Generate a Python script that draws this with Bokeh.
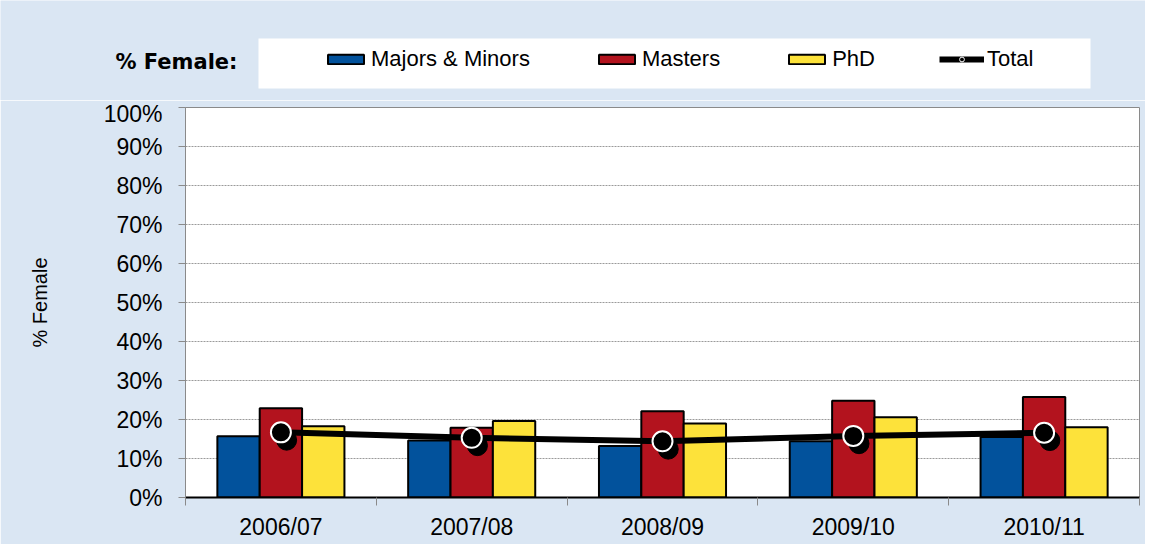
from bokeh.plotting import figure
from bokeh.layouts import column
from bokeh.models import (ColumnDataSource, Legend, LegendItem, FixedTicker,
                          NumeralTickFormatter, Label, Range1d, BoxAnnotation)
from bokeh.transform import dodge
from bokeh.embed import file_html
from bokeh.resources import INLINE

# ---- data ----
years = ["2006/07", "2007/08", "2008/09", "2009/10", "2010/11"]
majors_minors = [0.157, 0.146, 0.132, 0.144, 0.155]
masters = [0.229, 0.179, 0.221, 0.248, 0.258]
phd = [0.183, 0.196, 0.190, 0.206, 0.180]
total = [0.167, 0.153, 0.144, 0.158, 0.166]
y_ticks = [0, 0.1, 0.2, 0.3, 0.4, 0.5, 0.6, 0.7, 0.8, 0.9, 1.0]
series_names = ["Majors & Minors", "Masters", "PhD", "Total"]

xc = [i + 0.5 for i in range(len(years))]
src = ColumnDataSource(dict(x=xc, mm=majors_minors, ma=masters, phd=phd, tot=total))

BLUE = "#02529c"
RED = "#b3131e"
YEL = "#fde23a"
BG = "#dae6f3"
FONT = "Liberation Sans"
W = 1145

# ---- main chart ----
p = figure(width=W, height=444, output_backend="svg", toolbar_location=None,
           x_range=Range1d(0, len(years)), y_range=Range1d(0, 1.0),
           min_border_left=185, min_border_top=7, min_border_right=W - 1139,
           min_border_bottom=47)
p.frame_align = False
p.background_fill_color = "white"
p.border_fill_color = BG
p.outline_line_color = "#8a8a8a"
p.outline_line_width = 1

bw = 0.222
p.vbar(x=dodge("x", -bw, range=p.x_range), top="mm", width=bw, source=src,
       fill_color=BLUE, line_color="black", line_width=2)
p.vbar(x=dodge("x", 0, range=p.x_range), top="ma", width=bw, source=src,
       fill_color=RED, line_color="black", line_width=2)
p.vbar(x=dodge("x", bw, range=p.x_range), top="phd", width=bw, source=src,
       fill_color=YEL, line_color="black", line_width=2)

p.line(x="x", y="tot", source=src, line_color="black", line_width=6)
p.scatter(x=dodge("x", 0.03, range=p.x_range), y=dodge("tot", -0.02, range=p.y_range),
          source=src, size=20, fill_color="black", line_color="black")
p.scatter(x="x", y="tot", source=src, size=20, fill_color="black",
          line_color="white", line_width=2)

# axes
p.xaxis.ticker = FixedTicker(ticks=xc, minor_ticks=list(range(len(years) + 1)))
p.xaxis.major_label_overrides = {x: y for x, y in zip(xc, years)}
p.xaxis.major_tick_line_color = None
p.xaxis.minor_tick_line_color = "#8a8a8a"
p.xaxis.minor_tick_in = 0
p.xaxis.minor_tick_out = 8
p.xaxis.axis_line_color = "black"
p.xaxis.axis_line_width = 2
p.xaxis.major_label_text_font = FONT
p.xaxis.major_label_text_font_size = "23px"
p.xaxis.major_label_text_color = "black"
p.xaxis.major_label_standoff = 8

p.yaxis.ticker = FixedTicker(ticks=y_ticks)
p.yaxis.formatter = NumeralTickFormatter(format="0%")
p.yaxis.minor_tick_line_color = None
p.yaxis.major_tick_in = 0
p.yaxis.major_tick_out = 7
p.yaxis.major_tick_line_color = "#8a8a8a"
p.yaxis.axis_line_color = "#8a8a8a"
p.yaxis.major_label_text_font = FONT
p.yaxis.major_label_text_font_size = "23px"
p.yaxis.major_label_text_color = "black"
p.yaxis.major_label_standoff = 16
p.yaxis.axis_label = "% Female"
p.yaxis.axis_label_text_font = FONT
p.yaxis.axis_label_text_font_size = "20px"
p.yaxis.axis_label_text_font_style = "normal"
p.yaxis.axis_label_text_color = "black"
p.yaxis.axis_label_standoff = 50

p.xgrid.grid_line_color = None
p.ygrid.grid_line_color = "#9a9a9a"
p.ygrid.grid_line_dash = "2 1"
p.ygrid.grid_line_width = 1

# ---- legend strip (top) ----
top = figure(width=W, height=100, output_backend="svg", toolbar_location=None,
             x_range=Range1d(0, W), y_range=Range1d(0, 100),
             min_border=0, min_border_left=0, min_border_right=0,
             min_border_top=0, min_border_bottom=0)
top.frame_align = False
top.axis.visible = False
top.grid.visible = False
top.outline_line_color = None
top.background_fill_color = BG
top.border_fill_color = BG

# white legend panel
top.add_layout(BoxAnnotation(left=258, right=1090, bottom=12, top=62,
                             fill_color="white", fill_alpha=1.0, line_color=None))

# legend keys share the chart's data but are not drawn in this strip
k_mm = top.vbar(x="x", top="mm", width=1, source=src, fill_color=BLUE,
                line_color="black", line_width=2, visible=False)
k_ma = top.vbar(x="x", top="ma", width=1, source=src, fill_color=RED,
                line_color="black", line_width=2, visible=False)
k_ph = top.vbar(x="x", top="phd", width=1, source=src, fill_color=YEL,
                line_color="black", line_width=2, visible=False)
k_ln = top.line(x="x", y="tot", source=src, line_color="black", line_width=6,
                visible=False)
k_pt = top.scatter(x="x", y="tot", source=src, size=20, fill_color="black",
                   line_color="white", line_width=1, visible=False)

legend = Legend(items=[
    LegendItem(label=series_names[0], renderers=[k_mm]),
    LegendItem(label=series_names[1], renderers=[k_ma]),
    LegendItem(label=series_names[2], renderers=[k_ph]),
    LegendItem(label=series_names[3], renderers=[k_ln, k_pt]),
], orientation="horizontal", location=(323, 28), margin=0, padding=4,
    spacing=64, glyph_width=45, glyph_height=12, label_standoff=3,
    label_text_font=FONT, label_text_font_size="22px", label_text_color="black",
    background_fill_alpha=0.0, border_line_color=None,
    inactive_fill_alpha=0.0, click_policy="none")
top.add_layout(legend, "center")

top.add_layout(Label(x=115, y=39, x_units="screen", y_units="screen",
                     text="% Female:", text_font="DejaVu Sans", text_font_style="bold",
                     text_font_size="21px", text_baseline="middle", text_color="black"))

layout = column(top, p, spacing=0)
open("out.html", "w").write(file_html(layout, INLINE))
